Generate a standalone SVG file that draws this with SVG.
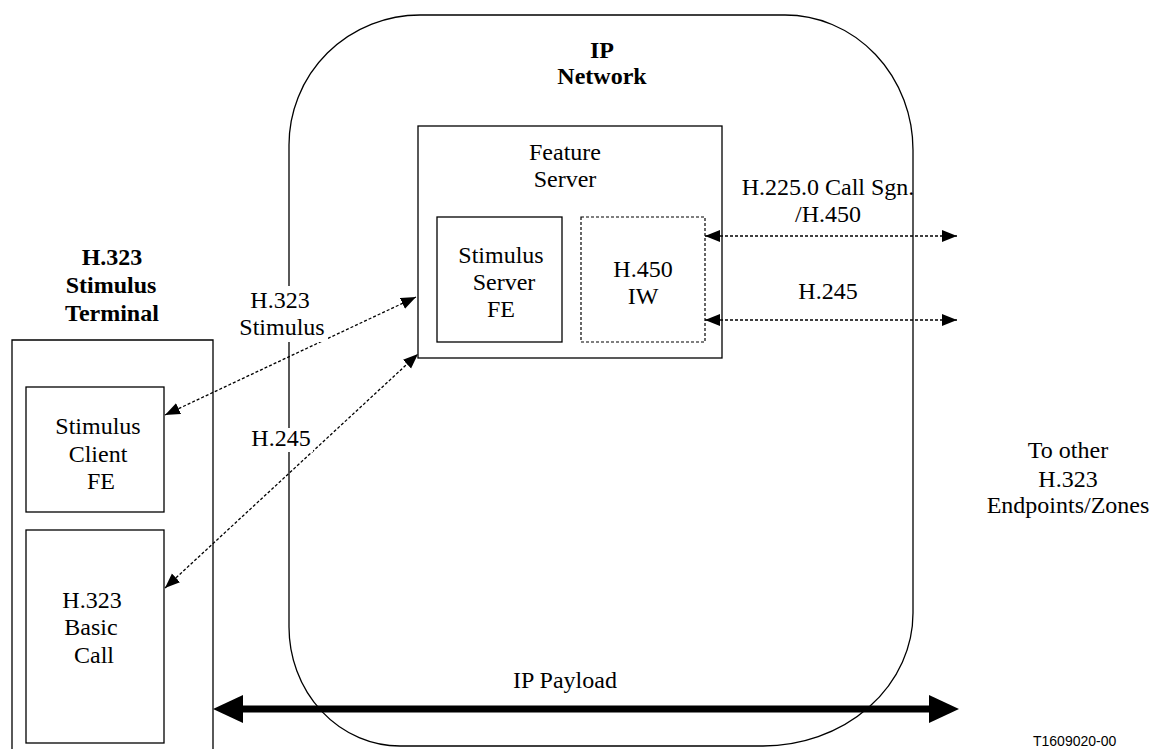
<svg xmlns="http://www.w3.org/2000/svg" width="1152" height="749" viewBox="0 0 1152 749">
<style>
.t{font-family:"Liberation Serif","Times New Roman",serif;font-size:24px;fill:#000;text-anchor:middle}
.b{font-weight:bold}
.box{fill:#fff;stroke:#000;stroke-width:1.3}
.dbox{fill:#fff;stroke:#000;stroke-width:1.2;stroke-dasharray:3 2}
.dash{fill:none;stroke:#000;stroke-width:1.3;stroke-dasharray:3 2}
.thick{fill:none;stroke:#000;stroke-width:7}
.bg{fill:#fff}
</style>
<defs>
<marker id="ah" markerUnits="userSpaceOnUse" markerWidth="16" markerHeight="13" refX="15" refY="6" orient="auto-start-reverse" viewBox="0 0 16 13">
<path d="M0,0 L15,6 L0,12 z" fill="#000"/>
</marker>
<marker id="big" markerUnits="userSpaceOnUse" markerWidth="31" markerHeight="29" refX="0" refY="14" orient="auto-start-reverse" viewBox="0 0 31 29">
<path d="M0,0 L30,14 L0,28 z" fill="#000"/>
</marker>
</defs>
<rect width="1152" height="749" fill="#fff"/>
<g id="ip-network">
<path d="M420,15 H785 A128,135 0 0 1 913,150 V613 A150,133 0 0 1 763,746 H400 A111,119 0 0 1 289,627 V145 A131,130 0 0 1 420,15 Z" fill="none" stroke="#000" stroke-width="1.3"/>
<text class="t b" x="602" y="58">IP</text>
<text class="t b" x="602" y="84">Network</text>
</g>
<g id="feature-server">
<rect class="box" x="418" y="126" width="304" height="232"/>
<text class="t" x="565" y="160">Feature</text>
<text class="t" x="565" y="187">Server</text>
</g>
<g id="stimulus-server">
<rect class="box" x="437" y="217" width="125" height="125"/>
<text class="t" x="501" y="263">Stimulus</text>
<text class="t" x="504" y="290">Server</text>
<text class="t" x="501" y="317">FE</text>
</g>
<g id="h450-iw">
<rect class="dbox" x="581" y="217" width="124" height="125"/>
<text class="t" x="643" y="277">H.450</text>
<text class="t" x="643" y="304">IW</text>
</g>
<g id="terminal">
<text class="t b" x="112" y="265">H.323</text>
<text class="t b" x="111" y="293">Stimulus</text>
<text class="t b" x="112" y="321">Terminal</text>
<path d="M12,760 V340 H213 V760" fill="#fff" stroke="#000" stroke-width="1.3"/>
</g>
<g id="stimulus-client">
<rect class="box" x="26" y="387" width="138" height="125"/>
<text class="t" x="98" y="434">Stimulus</text>
<text class="t" x="98" y="462">Client</text>
<text class="t" x="101" y="489">FE</text>
</g>
<g id="basic-call">
<rect class="box" x="26" y="530" width="138" height="213"/>
<text class="t" x="92" y="608">H.323</text>
<text class="t" x="91" y="635">Basic</text>
<text class="t" x="94" y="663">Call</text>
</g>
<g id="other-endpoints">
<text class="t" x="1068" y="458">To other</text>
<text class="t" x="1068" y="487">H.323</text>
<text class="t" x="1068" y="513">Endpoints/Zones</text>
</g>
<g id="connectors">
<line class="dash" x1="165" y1="415" x2="416" y2="297" marker-start="url(#ah)" marker-end="url(#ah)"/>
<line class="dash" x1="165" y1="588" x2="418" y2="354" marker-start="url(#ah)" marker-end="url(#ah)"/>
<line class="dash" x1="705" y1="236" x2="957" y2="236" marker-start="url(#ah)" marker-end="url(#ah)"/>
<line class="dash" x1="705" y1="320" x2="957" y2="320" marker-start="url(#ah)" marker-end="url(#ah)"/>
<line class="thick" x1="243" y1="709" x2="929" y2="709" marker-start="url(#big)" marker-end="url(#big)"/>
<rect class="bg" x="238" y="286" width="90" height="56"/>
<text class="t" x="280" y="308">H.323</text>
<text class="t" x="282" y="335">Stimulus</text>
<rect class="bg" x="249" y="428" width="64" height="24"/>
<text class="t" x="281" y="446">H.245</text>
<text class="t" x="828" y="195">H.225.0 Call Sgn.</text>
<text class="t" x="828" y="222">/H.450</text>
<text class="t" x="828" y="299">H.245</text>
<text class="t" x="565" y="688">IP Payload</text>
</g>
<text x="1033" y="746" style="font-family:'Liberation Sans',Arial,sans-serif;font-size:14px;fill:#000">T1609020-00</text>
</svg>
